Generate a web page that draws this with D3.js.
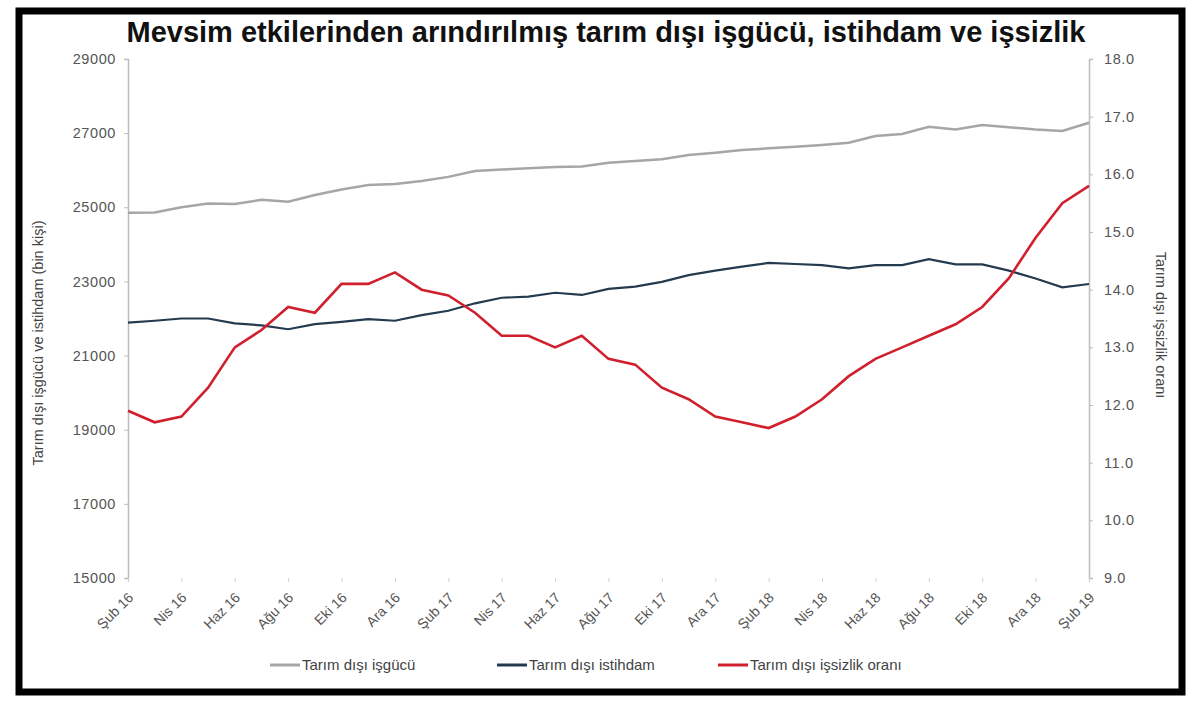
<!DOCTYPE html>
<html>
<head>
<meta charset="utf-8">
<script src="https://cdn.jsdelivr.net/npm/d3@7"></script>
<style>
  body { margin: 0; background: #fff; }
  text { font-family: "Liberation Sans", Arial, sans-serif; }
</style>
</head>
<body>
<svg id="chart" width="1200" height="708"></svg>
<script>
// month labels, Şub 16 .. Şub 19
const months = ["Şub 16","Mar 16","Nis 16","May 16","Haz 16","Tem 16","Ağu 16","Eyl 16","Eki 16","Kas 16","Ara 16","Oca 17",
  "Şub 17","Mar 17","Nis 17","May 17","Haz 17","Tem 17","Ağu 17","Eyl 17","Eki 17","Kas 17","Ara 17","Oca 18",
  "Şub 18","Mar 18","Nis 18","May 18","Haz 18","Tem 18","Ağu 18","Eyl 18","Eki 18","Kas 18","Ara 18","Oca 19","Şub 19"];

// bin kişi
const isgucu = [24850,24860,25000,25100,25090,25200,25150,25330,25480,25600,25630,25710,
  25820,25980,26020,26050,26090,26100,26200,26250,26295,26410,26470,26545,
  26590,26635,26680,26740,26920,26975,27170,27100,27220,27160,27100,27060,27280];

const istihdam = [21890,21940,22000,22000,21870,21815,21710,21850,21910,21985,21940,22090,
  22210,22410,22560,22590,22695,22635,22800,22860,22990,23170,23290,23400,
  23500,23470,23440,23350,23440,23440,23600,23460,23460,23290,23080,22840,22930];

// %
const issizlik = [11.9,11.7,11.8,12.3,13.0,13.3,13.7,13.6,14.1,14.1,14.3,14.0,
  13.9,13.6,13.2,13.2,13.0,13.2,12.8,12.7,12.3,12.1,11.8,11.7,
  11.6,11.8,12.1,12.5,12.8,13.0,13.2,13.4,13.7,14.2,14.9,15.5,15.8];

const leftTicks = [15000,17000,19000,21000,23000,25000,27000,29000];
const rightTicks = [9,10,11,12,13,14,15,16,17,18];

const title = "Mevsim etkilerinden arındırılmış tarım dışı işgücü, istihdam ve işsizlik";
const leftTitle = "Tarım dışı işgücü ve istihdam (bin kişi)";
const rightTitle = "Tarım dışı işsizlik oranı";
const seriesNames = ["Tarım dışı işgücü","Tarım dışı istihdam","Tarım dışı işsizlik oranı"];
const seriesColors = ["#a6a6a6","#243b4f","#d0202e"];

const svg = d3.select("#chart");
const plot = {left: 128, right: 1089, top: 59, bottom: 578};

// outer frame
svg.append("rect")
  .attr("x", 19).attr("y", 11).attr("width", 1163).attr("height", 681)
  .attr("fill", "none").attr("stroke", "#000").attr("stroke-width", 7);

svg.append("text")
  .attr("x", 606).attr("y", 42)
  .attr("text-anchor", "middle")
  .attr("font-size", 29).attr("font-weight", "bold").attr("fill", "#111")
  .text(title);

const x = d3.scalePoint().domain(months).range([plot.left, plot.right]);
const yL = d3.scaleLinear().domain([15000, 29000]).range([plot.bottom, plot.top]);
const yR = d3.scaleLinear().domain([9, 18]).range([plot.bottom, plot.top]);

// left axis
const gL = svg.append("g").attr("transform", `translate(${plot.left},0)`)
  .call(d3.axisLeft(yL).tickValues(leftTicks).tickSize(4).tickPadding(8).tickFormat(d3.format("d")));
// right axis
const gR = svg.append("g").attr("transform", `translate(${plot.right},0)`)
  .call(d3.axisRight(yR).tickValues(rightTicks).tickSize(4).tickPadding(11).tickFormat(d3.format(".1f")));

[gL, gR].forEach(g => {
  g.select(".domain").attr("stroke", "#bdbdbd").attr("stroke-width", 1.5);
  g.selectAll(".tick line").attr("stroke", "#bdbdbd");
  g.selectAll(".tick text").attr("fill", "#555").attr("font-size", 14.5).attr("letter-spacing", 0.6);
});

// bottom axis, labels every 2 months, no domain line
const labelMonths = months.filter((m, i) => i % 2 === 0);
const gB = svg.append("g").attr("transform", `translate(0,${plot.bottom})`)
  .call(d3.axisBottom(x).tickValues(labelMonths).tickSize(4).tickPadding(4));
gB.select(".domain").remove();
gB.selectAll(".tick line").attr("stroke", "#d0d0d0");
gB.selectAll(".tick text")
  .attr("fill", "#555").attr("font-size", 14)
  .attr("text-anchor", "end")
  .attr("dx", "-0.75em").attr("dy", "0.75em")
  .attr("transform", "rotate(-45)");

// axis titles
svg.append("text")
  .attr("transform", "translate(43,343) rotate(-90)")
  .attr("text-anchor", "middle").attr("font-size", 14.5).attr("fill", "#444")
  .text(leftTitle);
svg.append("text")
  .attr("transform", "translate(1156,325) rotate(90)")
  .attr("text-anchor", "middle").attr("font-size", 14.5).attr("fill", "#444")
  .text(rightTitle);

// lines
const lineL = d3.line().x((d, i) => x(months[i])).y(d => yL(d));
const lineR = d3.line().x((d, i) => x(months[i])).y(d => yR(d));

svg.append("path").datum(isgucu).attr("d", lineL)
  .attr("fill", "none").attr("stroke", seriesColors[0]).attr("stroke-width", 2.5);
svg.append("path").datum(istihdam).attr("d", lineL)
  .attr("fill", "none").attr("stroke", seriesColors[1]).attr("stroke-width", 2.2);
svg.append("path").datum(issizlik).attr("d", lineR)
  .attr("fill", "none").attr("stroke", seriesColors[2]).attr("stroke-width", 2.6);

// legend
const legendX = [270, 497, 718];
seriesNames.forEach((name, i) => {
  const g = svg.append("g").attr("transform", `translate(${legendX[i]},665)`);
  g.append("line").attr("x1", 0).attr("x2", 30).attr("y1", 0).attr("y2", 0)
    .attr("stroke", seriesColors[i]).attr("stroke-width", 3);
  g.append("text").attr("x", 32).attr("y", 5)
    .attr("font-size", 15).attr("fill", "#444").text(name);
});
</script>
</body>
</html>
